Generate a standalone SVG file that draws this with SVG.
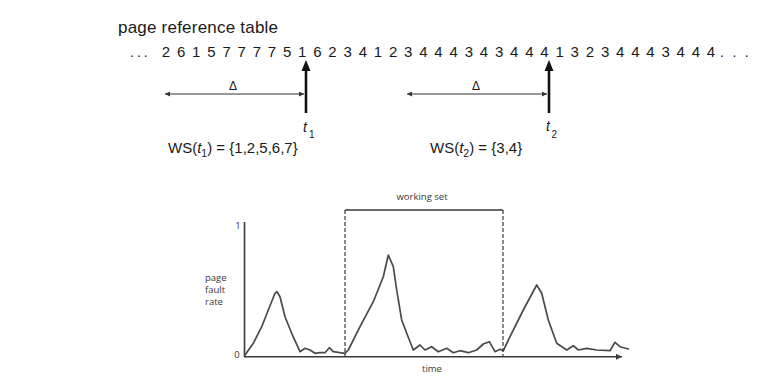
<svg xmlns="http://www.w3.org/2000/svg" width="772" height="383" viewBox="0 0 772 383">
<defs>
<style>
.top{font-family:"Liberation Sans",Arial,sans-serif;fill:#1a1a1a}
.small{font-family:"Open Sans","Noto Sans",sans-serif;fill:#3a3a3a;font-size:9.5px}
.delta{stroke:#333;stroke-width:1;fill:none}
.tick{stroke:#111;stroke-width:2.6;fill:none}
.axis{stroke:#3a3a3a;stroke-width:1.6;fill:none}
.curve{stroke:#4a4a4a;stroke-width:1.7;fill:none;stroke-linejoin:round;stroke-linecap:round}
.dash{stroke:#3a3a3a;stroke-width:1.2;stroke-dasharray:4 2;fill:none}
</style>
<marker id="ah" viewBox="0 0 10 10" refX="10" refY="5" markerWidth="6" markerHeight="5" orient="auto-start-reverse" markerUnits="userSpaceOnUse">
<path d="M0,0 L10,5 L0,10 z" fill="#333"/>
</marker>
<marker id="axh" viewBox="0 0 10 10" refX="10" refY="5" markerWidth="8" markerHeight="6" orient="auto" markerUnits="userSpaceOnUse">
<path d="M0,0 L10,5 L0,10 z" fill="#3a3a3a"/>
</marker>
</defs>
<rect width="772" height="383" fill="#fff"/>

<g id="title">
<text class="top" x="118" y="33" font-size="17" textLength="160" lengthAdjust="spacing">page reference table</text>
</g>

<g id="sequence">
<text class="top" x="130" y="57" font-size="14" letter-spacing="3">...</text>
<text class="top" y="57" font-size="15" text-anchor="middle" x="166 173.57 181.14 188.71 196.28 203.85 211.42 218.99 226.56 234.13 241.7 249.27 256.84 264.41 271.98 279.55 287.12 294.69 302.26 309.83 317.4 324.97 332.54 340.11 347.68 355.25 362.82 370.39 377.96 385.53 393.1 400.67 408.24 415.81 423.38 430.95 438.52 446.09 453.66 461.23 468.8 476.37 483.94 491.51 499.08 506.65 514.22 521.79 529.36 536.93 544.5 552.07 559.64 567.21 574.78 582.35 589.92 597.49 605.06 612.63 620.2 627.77 635.34 642.91 650.48 658.05 665.62 673.19 680.76 688.33 695.9 703.47 711.04">2 6 1 5 7 7 7 7 5 1 6 2 3 4 1 2 3 4 4 4 3 4 3 4 4 4 1 3 2 3 4 4 4 3 4 4 4</text>
<text class="top" x="720" y="57" font-size="14" letter-spacing="8.5">...</text>
</g>

<g id="t1">
<line class="tick" x1="306" y1="69" x2="306" y2="113"/>
<path d="M301.5,71 L306,60 L310.5,71 z" fill="#111"/>
<line class="delta" x1="165" y1="94" x2="304" y2="94" marker-start="url(#ah)" marker-end="url(#ah)"/>
<text class="top" x="233" y="90" font-size="12" text-anchor="middle">Δ</text>
<text class="top" x="303" y="132" font-size="14" font-style="italic">t</text>
<text class="top" x="309" y="137.5" font-size="10">1</text>
<text class="top" x="168" y="153" font-size="15">WS(<tspan font-style="italic">t</tspan><tspan font-size="10.5" dy="4">1</tspan><tspan dy="-4">) = {1,2,5,6,7}</tspan></text>
</g>

<g id="t2">
<line class="tick" x1="549" y1="69" x2="549" y2="113"/>
<path d="M544.5,71 L549,60 L553.5,71 z" fill="#111"/>
<line class="delta" x1="407" y1="94" x2="547" y2="94" marker-start="url(#ah)" marker-end="url(#ah)"/>
<text class="top" x="476" y="90" font-size="12" text-anchor="middle">Δ</text>
<text class="top" x="546" y="131" font-size="14" font-style="italic">t</text>
<text class="top" x="551.5" y="138" font-size="10">2</text>
<text class="top" x="430" y="153" font-size="15">WS(<tspan font-style="italic">t</tspan><tspan font-size="10.5" dy="4">2</tspan><tspan dy="-4">) = {3,4}</tspan></text>
</g>

<g id="graph">
<line class="axis" x1="244.5" y1="222" x2="244.5" y2="357"/>
<line class="axis" x1="244" y1="356.8" x2="622" y2="356.8" marker-end="url(#axh)"/>
<text class="small" x="238" y="228.5" font-size="10" text-anchor="middle">1</text>
<text class="small" x="237" y="357.5" font-size="10" text-anchor="middle">0</text>
<text class="small" x="205" y="281">page</text>
<text class="small" x="205" y="293">fault</text>
<text class="small" x="205" y="305">rate</text>
<text class="small" x="432" y="372" text-anchor="middle">time</text>
<path class="curve" d="M245,355 L253.3,343.3 L261.7,326.7 L268.3,310 L275,293.3 L277,291.7 L280,296.7 L285,316.7 L291.7,333.3 L300,351.7 L305,348.3 L310,350 L315,353.3 L320,352.7 L325,352.7 L329.3,347.7 L333.3,351.7 L340,352.7 L345,353.3 L348.3,350 L360,326.7 L373.3,301.7 L383.3,276.7 L388.3,255 L393.3,266.7 L396.7,290 L401.7,320 L406.7,333.3 L413.3,350 L420,345 L425,350 L431.7,346.7 L438.3,351.7 L446.7,348.3 L453.3,352.7 L460,350.7 L468.3,352.7 L476.7,350 L483.3,344 L489.3,341.7 L495,351.7 L500,349.3 L503.3,350.7 L510,336.7 L523.3,310 L536.7,285 L541.7,293.3 L548.3,320 L556.7,343.3 L566.7,350 L573.3,345.7 L578.3,350 L586.7,348.3 L596.7,350 L610,350.7 L615,342.3 L620,346.7 L628.3,349"/>
</g>

<g id="working-set">
<line class="dash" x1="345" y1="210" x2="345" y2="357"/>
<line class="dash" x1="503" y1="210" x2="503" y2="357"/>
<line class="axis" x1="345" y1="210" x2="503" y2="210" stroke-width="1.3"/>
<text class="small" x="422" y="200" text-anchor="middle" font-size="9">working set</text>
</g>
</svg>
